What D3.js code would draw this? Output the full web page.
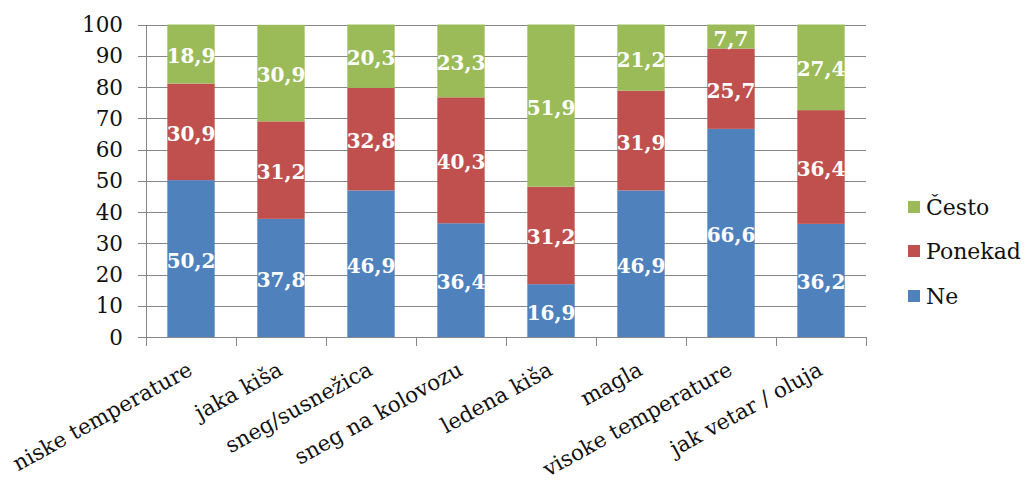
<!DOCTYPE html>
<html>
<head>
<meta charset="utf-8">
<script src="https://cdn.jsdelivr.net/npm/d3@7"></script>
<style>
  html, body { margin: 0; padding: 0; background: #fff; }
  svg { display: block; }
  text { font-family: "DejaVu Serif", serif; }
</style>
</head>
<body>
<script>
const categories = ["niske temperature", "jaka kiša", "sneg/susnežica", "sneg na kolovozu", "ledena kiša", "magla", "visoke temperature", "jak vetar / oluja"];
const ne       = [50.2, 37.8, 46.9, 36.4, 16.9, 46.9, 66.6, 36.2];
const ponekad  = [30.9, 31.2, 32.8, 40.3, 31.2, 31.9, 25.7, 36.4];
const cesto    = [18.9, 30.9, 20.3, 23.3, 51.9, 21.2, 7.7, 27.4];
const seriesNames = ["Ne", "Ponekad", "Često"];
const seriesColors = ["#4F81BD", "#C0504D", "#9BBB59"];
const yTicks = [0, 10, 20, 30, 40, 50, 60, 70, 80, 90, 100];

const W = 1027, H = 480;
const plotLeft = 146, plotRight = 866, plotTop = 24.5, plotBottom = 337;

const rows = categories.map((c, i) => ({ cat: c, "Ne": ne[i], "Ponekad": ponekad[i], "Često": cesto[i] }));

const svg = d3.select("body").append("svg").attr("width", W).attr("height", H);

const x = d3.scaleBand().domain(categories).range([plotLeft, plotRight]).paddingInner(0.474).paddingOuter(0.237);
const y = d3.scaleLinear().domain([0, 100]).range([plotBottom, plotTop]);
const color = d3.scaleOrdinal().domain(seriesNames).range(seriesColors);

const gridColor = "#878787";
const textColor = "#111";

// gridlines
svg.append("g").selectAll("line").data(yTicks).join("line")
  .attr("x1", plotLeft - 8).attr("x2", plotRight)
  .attr("y1", d => Math.round(y(d)) + 0.5).attr("y2", d => Math.round(y(d)) + 0.5)
  .attr("stroke", gridColor).attr("stroke-width", 1);

// y axis line
svg.append("line")
  .attr("x1", plotLeft + 0.5).attr("x2", plotLeft + 0.5)
  .attr("y1", Math.round(y(100))).attr("y2", Math.round(y(0)) + 1)
  .attr("stroke", gridColor);

// y tick labels
svg.append("g").selectAll("text").data(yTicks).join("text")
  .attr("x", 123).attr("y", d => y(d))
  .attr("dy", "0.36em")
  .attr("text-anchor", "end")
  .attr("font-size", 21.5)
  .attr("fill", textColor)
  .text(d => d);

// x ticks at band boundaries
const step = x.step();
const boundaries = d3.range(categories.length + 1).map(i => plotLeft + i * step);
svg.append("g").selectAll("line").data(boundaries).join("line")
  .attr("x1", d => Math.round(d) + 0.5).attr("x2", d => Math.round(d) + 0.5)
  .attr("y1", Math.round(y(0))).attr("y2", Math.round(y(0)) + 9)
  .attr("stroke", gridColor);

// stacked bars
const stack = d3.stack().keys(seriesNames);
const stacked = stack(rows);

const fmt = d3.formatLocale({ decimal: ",", thousands: ".", grouping: [3], currency: ["", ""] }).format(".1f");

const layers = svg.append("g").selectAll("g").data(stacked).join("g")
  .attr("fill", d => color(d.key));

layers.selectAll("rect").data(d => d).join("rect")
  .attr("x", d => x(d.data.cat))
  .attr("width", x.bandwidth())
  .attr("y", d => y(d[1]))
  .attr("height", d => y(d[0]) - y(d[1]));

// data labels
const labels = svg.append("g");
stacked.forEach(layer => {
  labels.append("g").selectAll("text").data(layer).join("text")
    .attr("x", d => x(d.data.cat) + x.bandwidth() / 2)
    .attr("y", d => (y(d[0]) + y(d[1])) / 2)
    .attr("dy", "0.45em")
    .attr("text-anchor", "middle")
    .attr("font-size", 20)
    .attr("font-weight", "bold")
    .attr("fill", "#fff")
    .text(d => fmt(d[1] - d[0]));
});

// x labels
svg.append("g").selectAll("text").data(categories).join("text")
  .attr("transform", d => `translate(${x(d) + x.bandwidth() / 2 + 3},${374}) rotate(-29)`)
  .attr("text-anchor", "end")
  .attr("font-size", 21.5)
  .attr("fill", textColor)
  .text(d => d);

// legend
const legendItems = ["Često", "Ponekad", "Ne"];
const legendY = [207, 251, 296];
const lg = svg.append("g");
legendItems.forEach((k, i) => {
  lg.append("rect")
    .attr("x", 908).attr("y", legendY[i] - 6)
    .attr("width", 12).attr("height", 12)
    .attr("fill", color(k));
  lg.append("text")
    .attr("x", 926).attr("y", legendY[i])
    .attr("dy", "0.38em")
    .attr("font-size", 22)
    .attr("fill", textColor)
    .text(k);
});
</script>
</body>
</html>
